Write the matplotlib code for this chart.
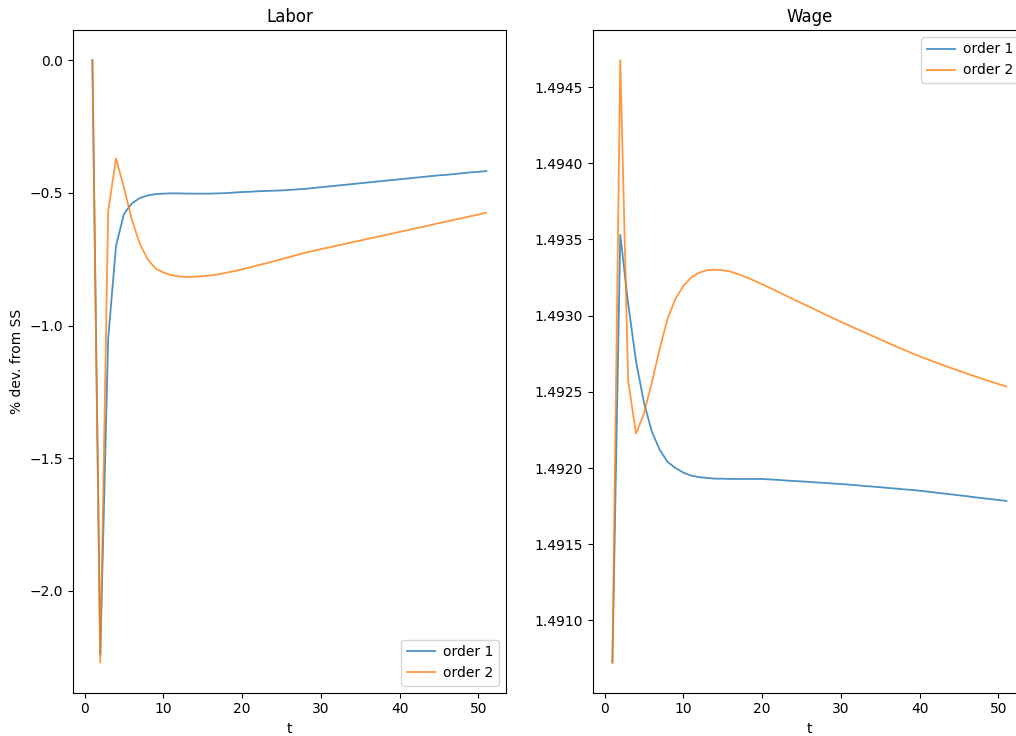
import matplotlib
matplotlib.use("Agg")
import matplotlib.pyplot as plt
import numpy as np

t = list(range(1, 52))

labor_order1 = [0.0, -2.24, -1.05, -0.70, -0.58, -0.54, -0.52, -0.51, -0.505, -0.503,
                -0.502, -0.502, -0.503, -0.503, -0.503, -0.503, -0.502, -0.501, -0.499, -0.497,
                -0.496, -0.494, -0.493, -0.492, -0.491, -0.489, -0.487, -0.485, -0.482, -0.479,
                -0.476, -0.473, -0.470, -0.467, -0.464, -0.461, -0.458, -0.455, -0.452, -0.449,
                -0.446, -0.443, -0.440, -0.437, -0.434, -0.432, -0.429, -0.426, -0.423, -0.421,
                -0.418]

labor_order2 = [0.0, -2.27, -0.57, -0.37, -0.48, -0.60, -0.69, -0.75, -0.785, -0.80,
                -0.81, -0.815, -0.817, -0.816, -0.814, -0.811, -0.807, -0.801, -0.795, -0.788,
                -0.781, -0.773, -0.766, -0.758, -0.750, -0.742, -0.734, -0.726, -0.719, -0.712,
                -0.706, -0.699, -0.693, -0.686, -0.680, -0.673, -0.667, -0.660, -0.654, -0.647,
                -0.641, -0.634, -0.628, -0.621, -0.614, -0.608, -0.601, -0.595, -0.588, -0.582,
                -0.575]

wage_order1 = [1.490723, 1.49353, 1.49308, 1.49270, 1.49243, 1.49224, 1.49212, 1.49204, 1.49200, 1.49197,
               1.49195, 1.49194, 1.491935, 1.49193, 1.49193, 1.491928, 1.491928, 1.491928, 1.491928, 1.491928,
               1.491925, 1.491922, 1.491918, 1.491915, 1.491912, 1.491909, 1.491905, 1.491902, 1.491898, 1.491895,
               1.491891, 1.491887, 1.491882, 1.491878, 1.491874, 1.491869, 1.491865, 1.491860, 1.491856, 1.491851,
               1.491845, 1.491839, 1.491833, 1.491827, 1.491821, 1.491815, 1.491808, 1.491802, 1.491796, 1.491790,
               1.491784]

wage_order2 = [1.490723, 1.494677, 1.492572, 1.492225, 1.492356, 1.492560, 1.492782, 1.492979, 1.493110, 1.493195,
               1.493250, 1.493282, 1.493298, 1.493302, 1.493298, 1.493289, 1.493272, 1.493252, 1.493230, 1.493206,
               1.493182, 1.493157, 1.493132, 1.493107, 1.493082, 1.493058, 1.493033, 1.493008, 1.492984, 1.492959,
               1.492936, 1.492913, 1.492890, 1.492867, 1.492844, 1.492821, 1.492798, 1.492776, 1.492754, 1.492733,
               1.492713, 1.492694, 1.492675, 1.492656, 1.492638, 1.492620, 1.492602, 1.492585, 1.492568, 1.492551,
               1.492535]

series_labels = ["order 1", "order 2"]
titles = ["Labor", "Wage"]

W, H = 1016, 736
fig = plt.figure(figsize=(W / 100, H / 100), dpi=100)
ax1 = fig.add_axes([72.7 / W, (H - 692.7) / H, 433.3 / W, 662.7 / H])
ax2 = fig.add_axes([592.7 / W, (H - 692.7) / H, 433.3 / W, 662.7 / H])

for ax, s1, s2, title, loc in [(ax1, labor_order1, labor_order2, titles[0], "lower right"),
                               (ax2, wage_order1, wage_order2, titles[1], "upper right")]:
    ax.plot(t, s1, color="tab:blue", alpha=0.8, lw=1.3, label=series_labels[0])
    ax.plot(t, s2, color="tab:orange", alpha=0.8, lw=1.3, label=series_labels[1])
    ax.set_title(title)
    ax.set_xlabel("t")
    ax.legend(loc=loc, handletextpad=0.6)

ax1.set_ylabel("% dev. from SS")

fig.savefig("out.png", dpi=100)
